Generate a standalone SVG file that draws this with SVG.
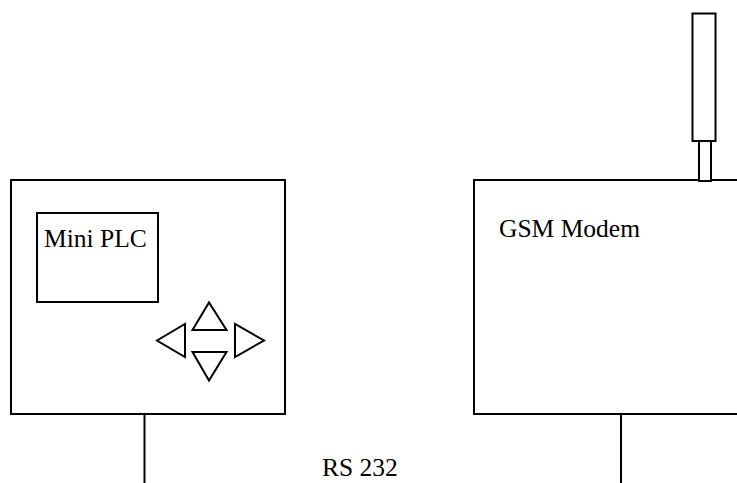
<svg xmlns="http://www.w3.org/2000/svg" width="737" height="483" viewBox="0 0 737 483">
<style>
.s{fill:#fff;stroke:#000;stroke-width:2}
.t{font-family:'Liberation Serif','Tinos','Times New Roman','DejaVu Serif',serif;font-size:25.5px;fill:#000}
.c{stroke:#000;stroke-width:2;fill:none}
</style>
<rect width="737" height="483" fill="#fff"/>
<g id="plc">
<rect class="s" x="11" y="180" width="274" height="234"/>
<rect class="s" x="37" y="213" width="121" height="89"/>
<text class="t" x="44" y="247">Mini PLC</text>
<polygon class="s" points="209,302.5 192.5,330 226.5,330"/>
<polygon class="s" points="192.5,352 226.5,352 209,380.5"/>
<polygon class="s" points="157,340.5 185,324 185,357"/>
<polygon class="s" points="235,324 235,357 264,340.5"/>
</g>
<g id="modem">
<rect class="s" x="474" y="180" width="280" height="234"/>
<text class="t" x="499" y="237">GSM Modem</text>
<rect class="s" x="699" y="141" width="12" height="40"/>
<rect class="s" x="692.5" y="13.5" width="23" height="127.5"/>
</g>
<g id="connectors">
<line class="c" x1="144.5" y1="414" x2="144.5" y2="483"/>
<line class="c" x1="621" y1="414" x2="621" y2="483"/>
<text class="t" x="322" y="476">RS 232</text>
</g>
</svg>
